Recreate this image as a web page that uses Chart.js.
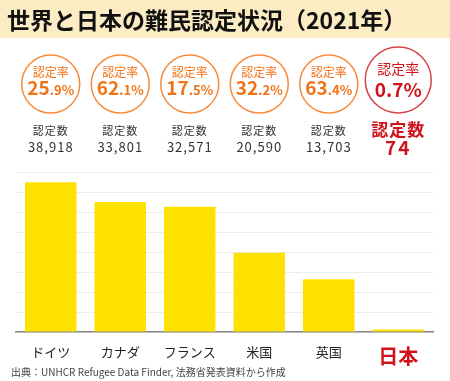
<!DOCTYPE html>
<html lang="ja">
<head>
<meta charset="utf-8">
<title>世界と日本の難民認定状況（2021年）</title>
<script src="https://cdn.jsdelivr.net/npm/chart.js@4.4.1/dist/chart.umd.min.js"></script>
<style>
  html, body { margin: 0; padding: 0; background: #fff; }
  #wrap { width: 450px; height: 381px; position: relative; }
</style>
</head>
<body>
<div id="wrap"><canvas id="chart" width="450" height="381"></canvas></div>
<script>
// データ
const countries = ['ドイツ', 'カナダ', 'フランス', '米国', '英国', '日本'];
const recognized = [38918, 33801, 32571, 20590, 13703, 74];
const rateInt = ['25', '62', '17', '32', '63', '0'];
const rateDec = ['.9%', '.1%', '.5%', '.2%', '.4%', '.7%'];
const countLabels = ['38,918', '33,801', '32,571', '20,590', '13,703', '74'];

const FONT = '"Noto Sans CJK JP", "Noto Sans", sans-serif';
const ORANGE = '#f07318';
const ORANGE_LINE = '#f68a3c';
const RED = '#d0121b';
const RED_LINE = '#d8414b';

// タイトル・円・注記を描くプラグイン
const decor = {
  id: 'decor',
  beforeDraw(chart) {
    const ctx = chart.ctx;
    ctx.save();
    ctx.fillStyle = '#fcecc4';
    ctx.fillRect(0, 0, chart.width, 38);
    ctx.restore();
  },
  afterDraw(chart) {
    const ctx = chart.ctx;
    const x = chart.scales.x;
    ctx.save();
    ctx.textBaseline = 'middle';
    ctx.textAlign = 'left';
    ctx.fillStyle = '#111';
    ctx.font = 'bold 23px ' + FONT;
    ctx.fillText('世界と日本の難民認定状況（2021年）', 7, 20);

    countries.forEach((c, i) => {
      const cx = x.getPixelForValue(i);
      const japan = i === countries.length - 1;
      const cy = japan ? 80 : 84;
      const r = japan ? 33 : 29;
      ctx.beginPath();
      ctx.arc(cx, cy, r, 0, Math.PI * 2);
      ctx.lineWidth = 1.5;
      ctx.strokeStyle = japan ? RED_LINE : ORANGE_LINE;
      ctx.stroke();

      ctx.textAlign = 'center';
      ctx.textBaseline = 'middle';
      ctx.fillStyle = japan ? RED : ORANGE;
      ctx.font = (japan ? '14px ' : '12px ') + FONT;
      ctx.fillText('認定率', cx, japan ? 69 : 72);

      // 率（整数部を大きく）
      const big = 'bold 19px ' + FONT;
      const small = japan ? big : 'bold 13px ' + FONT;
      ctx.textBaseline = 'alphabetic';
      ctx.font = big;
      const w1 = ctx.measureText(rateInt[i]).width;
      ctx.font = small;
      const w2 = ctx.measureText(rateDec[i]).width;
      const left = cx - (w1 + w2) / 2;
      const base = japan ? 97 : 95;
      ctx.textAlign = 'left';
      ctx.font = big;
      ctx.fillText(rateInt[i], left, base);
      ctx.font = small;
      ctx.fillText(rateDec[i], left + w1, base);

      // 認定数
      ctx.textAlign = 'center';
      ctx.textBaseline = 'middle';
      if (japan) {
        ctx.fillStyle = RED;
        ctx.font = 'bold 17px ' + FONT;
        ctx.letterSpacing = '1px';
        ctx.fillText('認定数', cx, 130);
        ctx.font = 'bold 19px ' + FONT;
        ctx.letterSpacing = '2px';
        ctx.fillText(countLabels[i], cx, 148);
      } else {
        ctx.fillStyle = '#333';
        ctx.font = '11px ' + FONT;
        ctx.letterSpacing = '1px';
        ctx.fillText('認定数', cx, 131);
        ctx.font = '13px ' + FONT;
        ctx.letterSpacing = '1px';
        ctx.fillText(countLabels[i], cx, 147);
      }
      ctx.letterSpacing = '0px';
    });

    ctx.textAlign = 'left';
    ctx.textBaseline = 'middle';
    ctx.fillStyle = '#444';
    ctx.font = '10px ' + FONT;
    ctx.fillText('出典：UNHCR Refugee Data Finder, 法務省発表資料から作成', 11, 372);
    ctx.restore();
  }
};

new Chart(document.getElementById('chart').getContext('2d'), {
  type: 'bar',
  data: {
    labels: countries,
    datasets: [{
      data: recognized,
      backgroundColor: '#ffe100',
      borderWidth: 0,
      barPercentage: 0.74,
      categoryPercentage: 1,
      minBarLength: 2.5
    }]
  },
  options: {
    responsive: false,
    animation: false,
    layout: { padding: { top: 172, left: 16, right: 17, bottom: 9 } },
    plugins: { legend: { display: false }, tooltip: { enabled: false } },
    scales: {
      x: {
        grid: { display: false },
        border: { color: '#888', width: 1.5 },
        ticks: {
          padding: 4,
          color: ctx => ctx.index === countries.length - 1 ? RED : '#222',
          font: ctx => ctx.index === countries.length - 1
            ? { family: FONT, size: 20, weight: 'bold' }
            : { family: FONT, size: 13 }
        }
      },
      y: {
        min: 0,
        max: 41600,
        grid: { color: '#ececec', drawTicks: false },
        border: { display: false },
        ticks: { display: false, stepSize: 5200 }
      }
    }
  },
  plugins: [decor]
});
</script>
</body>
</html>
